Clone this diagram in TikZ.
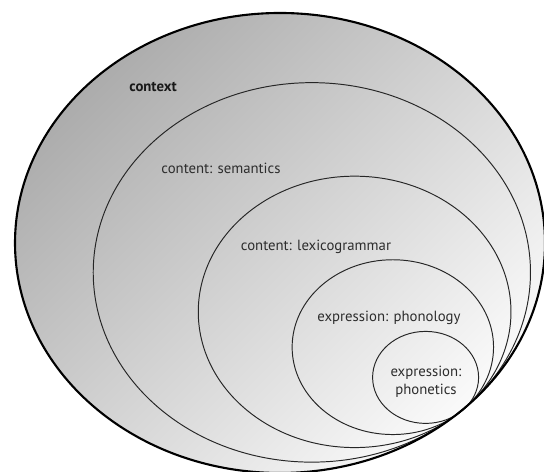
\documentclass[tikz,border=0pt]{standalone}
\usepackage{fontspec}
\setmainfont{PT Sans}
\usetikzlibrary{calc}
\definecolor{shadedark}{RGB}{172,172,172}
\definecolor{shademid}{RGB}{210,210,210}
\definecolor{shadelight}{RGB}{250,250,250}
\definecolor{labelgray}{RGB}{45,45,45}
\tikzset{
  ringlabel/.style={font=\fontsize{8.4}{10}\selectfont, text=labelgray, align=center, inner sep=0pt},
  innerring/.style={draw=black!85, line width=0.55pt},
}
\begin{document}
\begin{tikzpicture}[x=0.02cm, y=0.02cm]
  \useasboundingbox (0,0) rectangle (544,472);
  \coordinate (C) at (280,229);
  \coordinate (P) at (462,61);
  \shade[top color=shadedark, middle color=shademid, bottom color=shadelight, shading angle=45] (C) ellipse [x radius=265, y radius=230];
  \foreach \s in {0.825,0.59,0.38,0.2}
    \draw[innerring] ($(P)!\s!(C)$) ellipse [x radius={265*\s}, y radius={230*\s}];
  \draw[line width=1.2pt] (C) ellipse [x radius=265, y radius=230];
  \node[ringlabel, font=\bfseries\fontsize{8.4}{10}\selectfont, text=black!90] (context) at (153,385) {context};
  \node[ringlabel] (semantics) at (221,304) {content: semantics};
  \node[ringlabel] (lexicogrammar) at (316,225) {content: lexicogrammar};
  \node[ringlabel] (phonology) at (389,154) {expression: phonology};
  \node[ringlabel] (phonetics) at (426,90) {expression:\\phonetics};
\end{tikzpicture}
\end{document}
